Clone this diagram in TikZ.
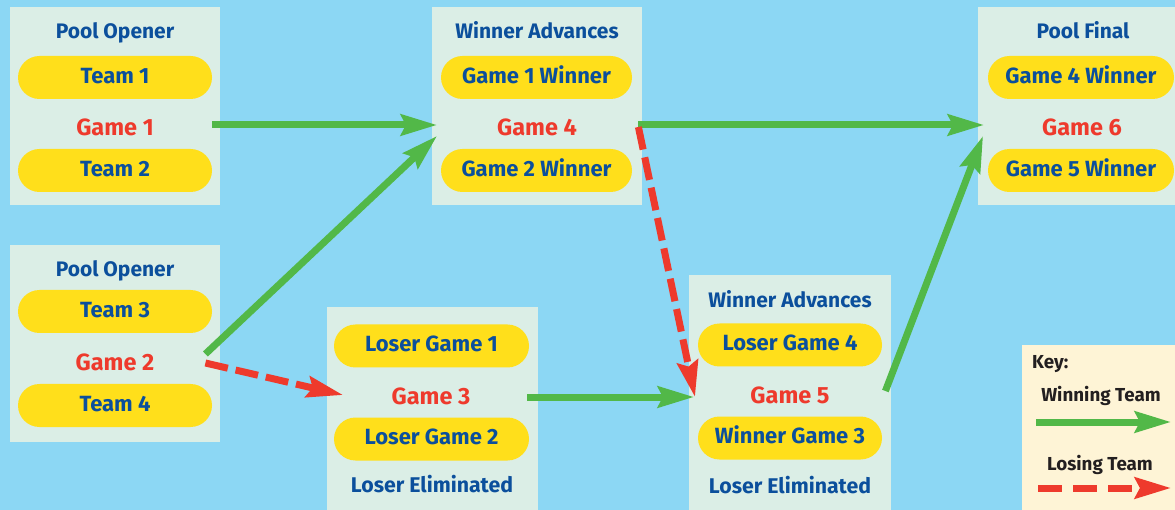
\documentclass[tikz,border=0pt]{standalone}
\usepackage{fontspec}
\setmainfont{Fira Sans}
\usetikzlibrary{arrows.meta,calc}
\definecolor{bgc}{HTML}{8CD7F4}
\definecolor{boxc}{HTML}{DBEEE6}
\definecolor{pillc}{HTML}{FFDF1B}
\definecolor{bluec}{HTML}{0B4F9C}
\definecolor{redc}{HTML}{EE3A2C}
\definecolor{greenc}{HTML}{52B848}
\definecolor{keyc}{HTML}{FEF4D6}
\definecolor{darkc}{HTML}{231F20}
\begin{document}
\begin{tikzpicture}[x=1pt,y=-1pt,
  panel/.style={fill=boxc, draw=none, inner sep=0pt, anchor=north west},
  title/.style={text=bluec, font=\bfseries\fontsize{21}{21}\selectfont, inner sep=0pt, text height=14.5pt, text depth=0pt},
  pill/.style={fill=pillc, text=bluec, rounded corners=21.5pt, minimum height=43pt, inner sep=0pt, text height=15.2pt, text depth=4pt, font=\bfseries\fontsize{22}{22}\selectfont},
  game/.style={text=redc, font=\bfseries\fontsize{23.5}{23.5}\selectfont, inner sep=0pt, text height=16.2pt, text depth=0pt},
  elim/.style={text=bluec, font=\bfseries\fontsize{21.3}{21.3}\selectfont, inner sep=0pt, text height=14.7pt, text depth=0pt},
  keytext/.style={text=darkc, font=\bfseries\fontsize{18.8}{18.8}\selectfont, inner sep=0pt, text height=13pt, text depth=0pt},
  win/.style={draw=greenc, line width=7pt, -{Stealth[length=36pt,width=21pt,inset=5pt]}},
  lose/.style={draw=redc, line width=7pt, dash pattern=on 23pt off 8pt, -{Stealth[length=36pt,width=21pt,inset=5pt]}}]
\useasboundingbox (0,0) rectangle (1175,510);
\clip (0,0) rectangle (1175,510);
\fill[bgc] (0,0) rectangle (1175,510);

% panels
\node[panel, minimum width=210pt, minimum height=198pt] (A) at (10,7) {};
\node[panel, minimum width=210pt, minimum height=197pt] (B) at (10,245) {};
\node[panel, minimum width=210pt, minimum height=198pt] (C) at (432,7) {};
\node[panel, minimum width=200pt, minimum height=198pt] (D) at (978,7) {};
\node[panel, minimum width=211pt, minimum height=210pt] (E) at (327,307) {};
\node[panel, minimum width=202pt, minimum height=240pt] (F) at (689,275) {};
\node[panel, fill=keyc, minimum width=165pt, minimum height=175pt] (K) at (1022,345) {};

% A
\node[title] (tA) at (115,31) {Pool Opener};
\node[pill, minimum width=194pt] (t1) at (115,77.5) {Team 1};
\node[game] (g1) at (115,127) {Game 1};
\node[pill, minimum width=194pt] (t2) at (115,170.5) {Team 2};
% B
\node[title] (tB) at (115,269) {Pool Opener};
\node[pill, minimum width=194pt] (t3) at (115,311.5) {Team 3};
\node[game] (g2) at (115,362) {Game 2};
\node[pill, minimum width=194pt] (t4) at (115,405.5) {Team 4};
% C
\node[title] (tC) at (537,31) {Winner Advances};
\node[pill, minimum width=191pt] (w1) at (536.5,77.5) {Game 1 Winner};
\node[game] (g4) at (537,127) {Game 4};
\node[pill, minimum width=191pt] (w2) at (536.5,170.5) {Game 2 Winner};
% D
\node[title] (tD) at (1083,31) {Pool Final};
\node[pill, minimum width=186pt] (w4) at (1081,77.5) {Game 4 Winner};
\node[game] (g6) at (1082,127) {Game 6};
\node[pill, minimum width=186pt] (w5) at (1081,170.5) {Game 5 Winner};
% E
\node[pill, minimum width=195pt] (l1) at (431.5,346) {Loser Game 1};
\node[game] (g3) at (431,396) {Game 3};
\node[pill, minimum width=195pt] (l2) at (431.5,439) {Loser Game 2};
\node[elim] (eE) at (432,485) {Loser Eliminated};
% F
\node[title] (tF) at (790,300) {Winner Advances};
\node[pill, minimum width=184pt] (l4) at (790,345) {Loser Game 4};
\node[game] (g5) at (790,395) {Game 5};
\node[pill, minimum width=184pt] (w3) at (790,438) {Winner Game 3};
\node[elim] (eF) at (790,486) {Loser Eliminated};

% key
\node[keytext, anchor=west] (kk) at (1032,362) {Key:};
\node[keytext] (kw) at (1101,395) {Winning Team};
\node[keytext] (kl) at (1100,464) {Losing Team};
\coordinate (kwa) at (1036,422);
\coordinate (kwb) at (1171,422);
\coordinate (kla) at (1038,488);
\coordinate (klb) at (1171,488);

% connectors
\draw[win] ($(g1.center -| A.east)+(-8,-2)$) -- ($(g1.center -| C.west)+(5,-2)$);
\draw[win] ($(g2.center -| A.east)+(-15,-8)$) -- ($(g4.center -| C.west)+(5,9)$);
\draw[win] ($(g4.center -| C.east)+(-4,-2)$) -- ($(g6.center -| D.west)+(6,-2)$);
\draw[win] ($(g5.center -| F.east)+(-6,-4)$) -- ($(g6.center -| D.west)+(5,9)$);
\draw[win] ($(g3.center -| E.east)+(-11,1)$) -- ($(g3.center -| F.west)+(5,1)$);
\draw[lose] ($(g2.center -| A.east)+(-15,1)$) -- ($(g3.center -| E.west)+(16,-1)$);
\draw[lose] ($(g4.center -| C.east)+(-4,0)$) -- ($(g5.center -| F.west)+(6,2)$);
\draw[win] (kwa) -- (kwb);
\draw[lose, dash pattern=on 24pt off 11pt] (kla) -- (klb);
\end{tikzpicture}
\end{document}
